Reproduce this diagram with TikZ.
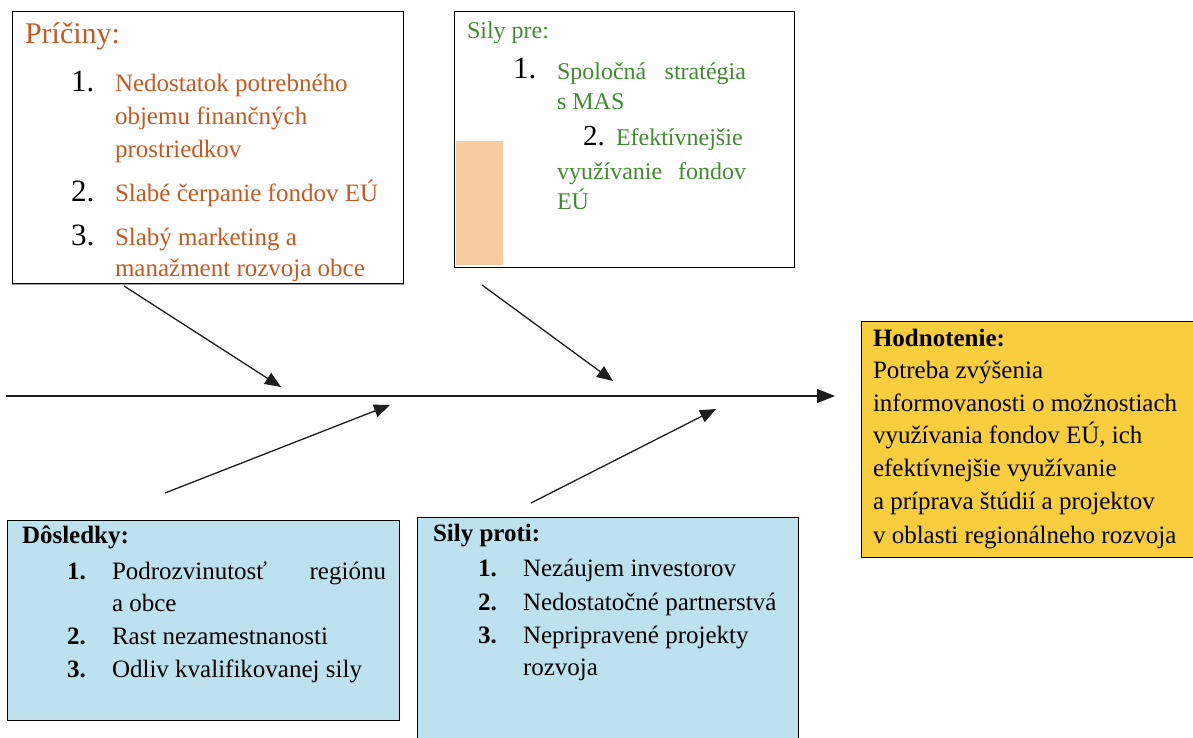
\documentclass[tikz,border=0pt]{standalone}
\usepackage{fontspec}
\setmainfont{Liberation Serif}
\usetikzlibrary{arrows.meta}
\definecolor{cOrange}{RGB}{196,90,34}
\definecolor{cGreen}{RGB}{66,138,50}
\definecolor{cTan}{RGB}{246,204,160}
\definecolor{cYellow}{RGB}{249,206,62}
\definecolor{cBlue}{RGB}{190,225,238}
\definecolor{cLine}{RGB}{30,30,30}
\tikzset{
  box/.style={draw=black, line width=1pt, inner sep=0pt, anchor=north west},
  txt/.style={anchor=base west, inner sep=0pt, outer sep=0pt},
  arr/.style={draw=cLine, line width=1.3pt, -{Triangle[length=16pt,width=13pt]}},
  fz/.style={font=\fontsize{25}{30}\selectfont},
  fzb/.style={font=\fontsize{25}{30}\selectfont\bfseries},
  fnum/.style={font=\fontsize{31}{36}\selectfont},
}
\begin{document}
\begin{tikzpicture}[x=1pt,y=-1pt]
\useasboundingbox[fill=white] (0,0) rectangle (1193,738);
% boxes
\node (pricinyBox) [box, minimum width=391pt, minimum height=272pt] at (12,11) {};
\draw[gray!70, line width=1pt] (pricinyBox.south west) -- (pricinyBox.south east);
\node (silyPreBox) [box, minimum width=340pt, minimum height=256pt] at (454,11) {};
\node (tanBar) [anchor=north west, fill=cTan, inner sep=0pt, minimum width=47pt, minimum height=124pt] at (456,141) {};
\node (hodnBox) [box, fill=cYellow, minimum width=340pt, minimum height=236pt] at (861,321) {};
\node (dosBox) [box, fill=cBlue, minimum width=392pt, minimum height=200pt] at (7,520) {};
\node (protiBox) [box, fill=cBlue, minimum width=381pt, minimum height=230pt] at (417,517) {};
% Priciny
\node (pTitle) [txt, text=cOrange, font=\fontsize{30}{36}\selectfont] at (25,44) {Príčiny:};
\node (pN1) [txt, fnum] at (71,92) {1.};
\node (pT1a) [txt, fz, text=cOrange] at (115,92) {Nedostatok potrebného};
\node (pT1b) [txt, fz, text=cOrange] at (115,125) {objemu finančných};
\node (pT1c) [txt, fz, text=cOrange] at (115,158) {prostriedkov};
\node (pN2) [txt, fnum] at (71,201) {2.};
\node (pT2) [txt, fz, text=cOrange] at (115,201) {Slabé čerpanie fondov EÚ};
\node (pN3) [txt, fnum] at (71,245) {3.};
\node (pT3a) [txt, fz, text=cOrange] at (115,245) {Slabý marketing a};
\node (pT3b) [txt, fz, text=cOrange] at (115,276) {manažment rozvoja obce};
% Sily pre
\node (sTitle) [txt, font=\fontsize{24}{30}\selectfont, text=cGreen] at (467,39) {Sily pre:};
\node (sN1) [txt, fnum] at (513,79) {1.};
\node (sT1a) [txt, font=\fontsize{24}{30}\selectfont, text=cGreen] at (557,80) {\makebox[189pt][s]{Spoločná stratégia}};
\node (sT1b) [txt, font=\fontsize{24}{30}\selectfont, text=cGreen] at (557,110) {s MAS};
\node (sN2) [txt, font=\fontsize{29}{34}\selectfont] at (583,146) {2.};
\node (sT2a) [txt, font=\fontsize{24}{30}\selectfont, text=cGreen] at (616,146) {Efektívnejšie};
\node (sT2b) [txt, font=\fontsize{24}{30}\selectfont, text=cGreen] at (557,180) {\makebox[189pt][s]{využívanie fondov}};
\node (sT2c) [txt, font=\fontsize{24}{30}\selectfont, text=cGreen] at (557,209) {EÚ};
% Hodnotenie
\node (hTitle) [txt, fzb] at (873,346) {Hodnotenie:};
\node (h1) [txt, fz] at (873,378) {Potreba zvýšenia};
\node (h2) [txt, fz] at (873,411) {informovanosti o možnostiach};
\node (h3) [txt, fz] at (873,443) {využívania fondov EÚ, ich};
\node (h4) [txt, fz] at (873,476) {efektívnejšie využívanie};
\node (h5) [txt, fz] at (873,509) {a príprava štúdií a projektov};
\node (h6) [txt, fz] at (873,543) {v oblasti regionálneho rozvoja};
% Dosledky
\node (dTitle) [txt, fzb] at (22,543) {Dôsledky:};
\node (dN1) [txt, fzb] at (67,579) {1.};
\node (dT1a) [txt, fz] at (112,579) {\makebox[274pt][s]{Podrozvinutosť regiónu}};
\node (dT1b) [txt, fz] at (112,611) {a obce};
\node (dN2) [txt, fzb] at (67,644) {2.};
\node (dT2) [txt, fz] at (112,644) {Rast nezamestnanosti};
\node (dN3) [txt, fzb] at (67,677) {3.};
\node (dT3) [txt, fz] at (112,677) {Odliv kvalifikovanej sily};
% Sily proti
\node (spTitle) [txt, fzb] at (433,541) {Sily proti:};
\node (spN1) [txt, fzb] at (478,576) {1.};
\node (spT1) [txt, fz] at (523,576) {Nezáujem investorov};
\node (spN2) [txt, fzb] at (478,610) {2.};
\node (spT2) [txt, fz] at (523,610) {Nedostatočné partnerstvá};
\node (spN3) [txt, fzb] at (478,643) {3.};
\node (spT3a) [txt, fz] at (523,643) {Nepripravené projekty};
\node (spT3b) [txt, fz] at (523,675) {rozvoja};
% fishbone
\coordinate (spineS) at (6,396);
\coordinate (spineE) at (835,396);
\coordinate (a1s) at (124,286); \coordinate (a1e) at (281,387);
\coordinate (a2s) at (482,285); \coordinate (a2e) at (613,381);
\coordinate (a3s) at (165,493); \coordinate (a3e) at (390,405);
\coordinate (a4s) at (531,503); \coordinate (a4e) at (716,409);
\draw[arr, -{Triangle[length=18pt,width=14pt]}] (spineS) -- (spineE);
\draw[arr] (a1s) -- (a1e);
\draw[arr] (a2s) -- (a2e);
\draw[arr] (a3s) -- (a3e);
\draw[arr] (a4s) -- (a4e);
\end{tikzpicture}
\end{document}
